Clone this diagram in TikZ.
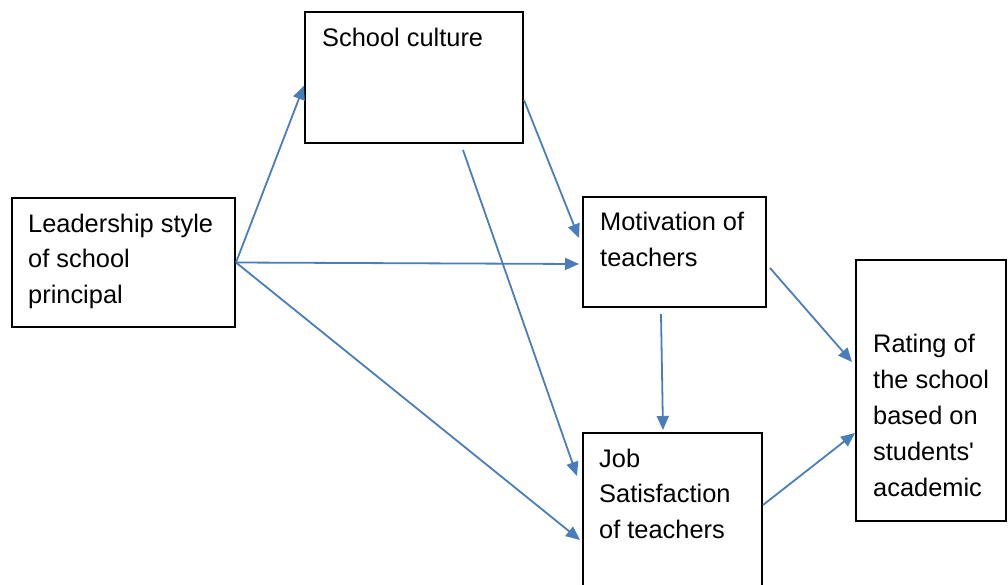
\documentclass[tikz,border=0pt]{standalone}
\usepackage{fontspec}
\setmainfont{Liberation Sans}
\usetikzlibrary{arrows.meta}
\definecolor{arr}{RGB}{74,126,187}
\tikzset{
  box/.style={draw=black, line width=2pt, rectangle, inner sep=0pt},
  lbl/.style={anchor=base west, align=left, inner sep=0pt, font=\fontsize{25.4}{35.5}\selectfont},
  conn/.style={draw=arr, line width=1.8pt, -{Triangle[length=14pt,width=12pt]}}
}
\begin{document}
\begin{tikzpicture}[x=1pt,y=-1pt]
\useasboundingbox (0,0) rectangle (1008,584);
\clip (0,0) rectangle (1008,584);
\fill[white] (0,0) rectangle (1008,584);
\node[box, minimum width=218pt, minimum height=131pt] (sc) at (414,77.5) {};
\node[box, minimum width=223pt, minimum height=129pt] (lead) at (123.5,262.5) {};
\node[box, minimum width=183pt, minimum height=110pt] (mot) at (674.5,252) {};
\node[box, minimum width=179pt, minimum height=167pt] (job) at (672.5,516.5) {};
\node[box, minimum width=150pt, minimum height=261pt] (rat) at (931,390.5) {};
\node[lbl] (sct) at (322,46) {School culture};
\node[lbl] (leadt) at (28,303) {Leadership style\\of school\\principal};
\node[lbl] (mott) at (600,266) {Motivation of\\teachers};
\node[lbl] (jobt) at (599,538) {Job\\Satisfaction\\of teachers};
\node[lbl, font=\fontsize{25.4}{36}\selectfont] (ratt) at (873,496) {Rating of\\the school\\based on\\students\textquotesingle\\academic};
\draw[conn] (lead.east) -- ([yshift=-8pt]sc.west);
\draw[conn] (lead.east) -- ([yshift=-12pt,xshift=-3pt]mot.west);
\draw[conn] (lead.east) -- ([yshift=-23.5pt,xshift=-2pt]job.west);
\draw[conn] ([xshift=49pt,yshift=-6pt]sc.south) -- ([yshift=40.5pt,xshift=-5pt]job.west);
\draw[conn] ([yshift=-22.5pt]sc.east) -- ([yshift=14pt,xshift=-3pt]mot.west);
\draw[conn] ([xshift=-13.5pt,yshift=-6pt]mot.south) -- ([xshift=-9.5pt,yshift=2pt]job.north);
\draw[conn] ([yshift=-16pt,xshift=3pt]mot.east) -- ([yshift=28.5pt,xshift=-3pt]rat.west);
\draw[conn] ([yshift=11.5pt]job.east) -- ([yshift=-42.5pt]rat.west);
\end{tikzpicture}
\end{document}
